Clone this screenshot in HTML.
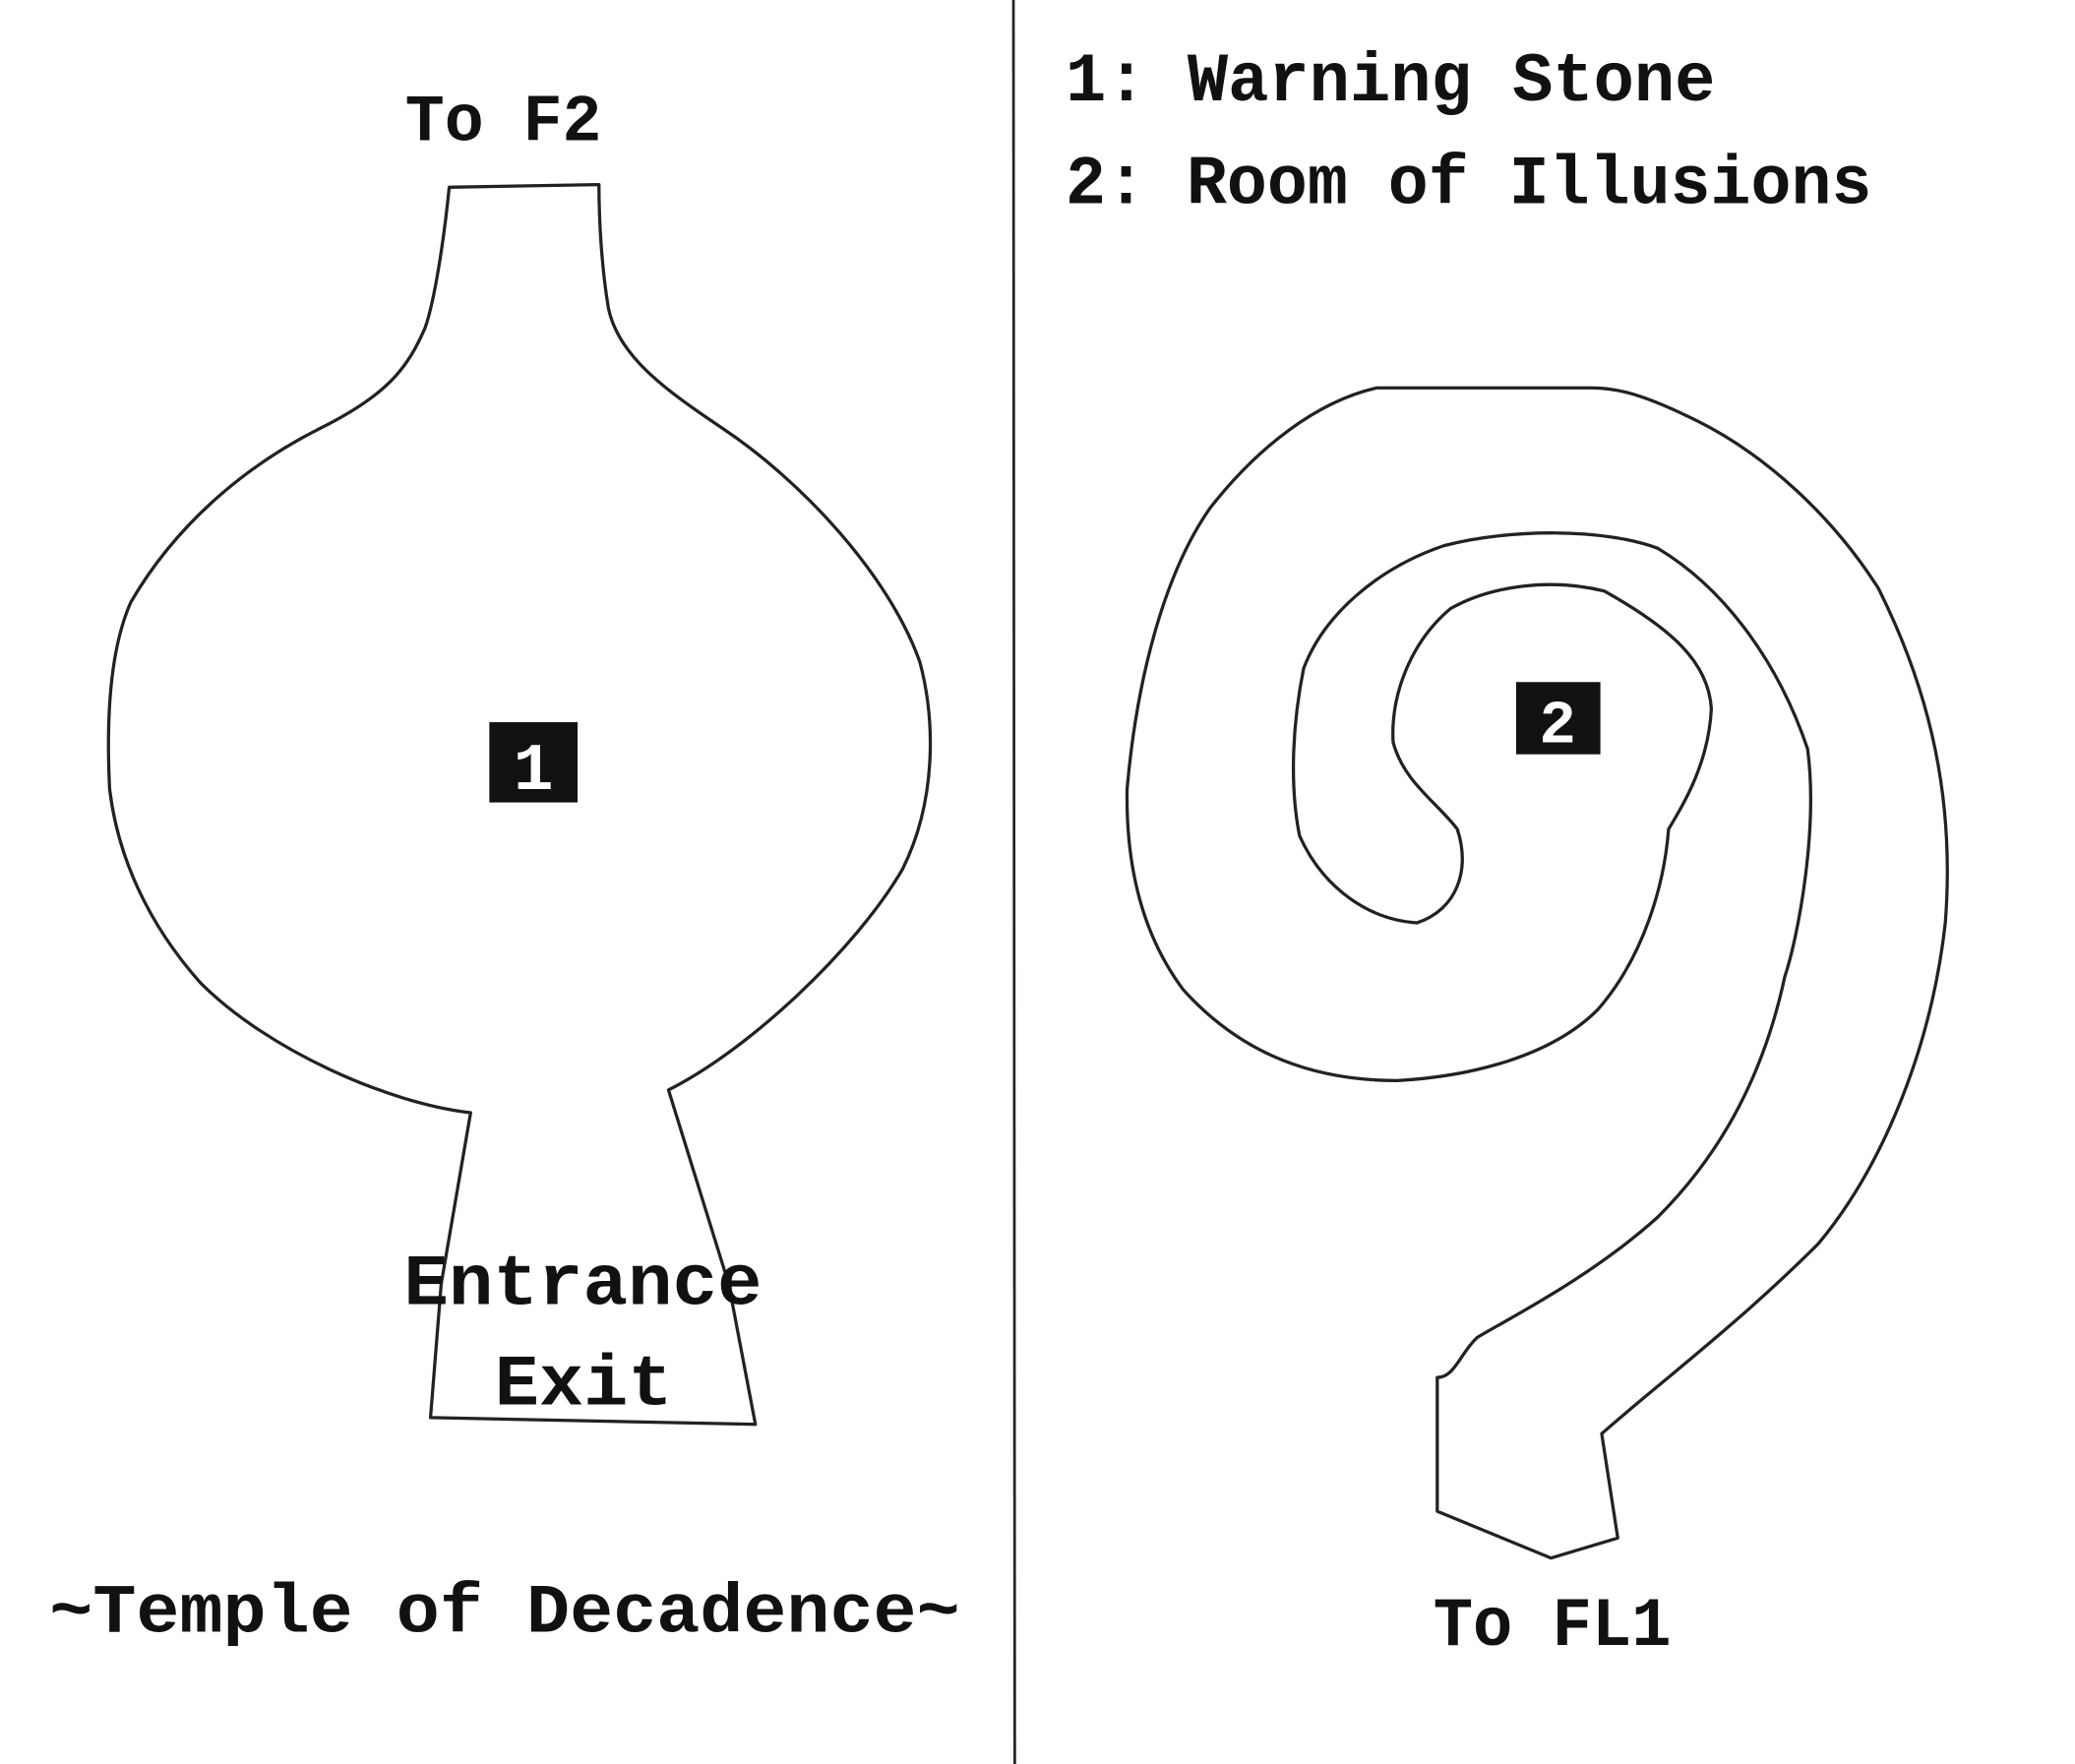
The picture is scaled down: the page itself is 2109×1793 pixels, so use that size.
<!DOCTYPE html>
<html><head><meta charset="utf-8"><style>
html,body{margin:0;padding:0;background:#fff;}
svg{display:block;}
text{font-family:"Liberation Mono",monospace;font-weight:bold;fill:#111;}
</style></head><body>
<svg width="2109" height="1793" viewBox="0 0 1552 1319" preserveAspectRatio="none" xmlns="http://www.w3.org/2000/svg">
<rect width="1552" height="1319" fill="#fff"/>
<line x1="758" y1="0" x2="759" y2="1319" stroke="#222" stroke-width="2"/>
<path d="M336,140 C332,180 325,225 318,245 C305,275 290,295 240,320 C180,350 130,395 98,450 C80,490 80,550 82,590 C88,640 110,690 150,735 C200,785 290,825 352,832 L330,960 L322,1060 L565,1065 L545,960 L500,815 C560,785 640,710 675,650 C700,600 700,540 688,495 C665,430 600,360 540,320 C495,290 462,265 455,230 C450,200 448,165 448,138 Z" fill="none" stroke="#222" stroke-width="2.4" stroke-linejoin="round"/>
<path d="M1075,1030 L1075,1130 L1160,1165 L1210,1150 L1198,1072 C1240,1035 1300,990 1360,930 C1410,870 1445,780 1455,690 C1462,600 1445,520 1405,440 C1370,385 1320,340 1270,315 C1230,295 1210,290 1190,290 L1030,290 C985,300 940,335 905,380 C870,430 850,510 843,590 C842,650 855,700 885,740 C930,790 985,808 1045,808 C1100,805 1160,790 1195,755 C1230,715 1245,660 1248,620 C1260,600 1278,570 1280,530 C1278,495 1250,470 1200,442 C1160,432 1115,438 1085,455 C1055,480 1040,520 1042,555 C1050,585 1075,600 1090,620 C1100,650 1090,680 1060,690 C1025,688 990,665 972,625 C965,590 966,545 975,500 C990,460 1030,425 1080,408 C1130,395 1200,395 1240,410 C1290,440 1330,495 1352,560 C1360,620 1345,700 1335,730 C1320,800 1290,860 1240,910 C1190,955 1130,985 1105,1000 C1092,1012 1088,1030 1075,1030 Z" fill="none" stroke="#222" stroke-width="2.4" stroke-linejoin="round"/>
<text x="303" y="105" font-size="50" textLength="147" lengthAdjust="spacingAndGlyphs">To F2</text>
<rect x="366" y="540" width="66" height="60" fill="#111"/>
<text x="399" y="590" font-size="50" text-anchor="middle" style="fill:#fff">1</text>
<text x="302" y="975" font-size="54" textLength="268" lengthAdjust="spacingAndGlyphs">Entrance</text>
<text x="370" y="1050" font-size="54" textLength="133" lengthAdjust="spacingAndGlyphs">Exit</text>
<text x="37" y="1220" font-size="52" textLength="681" lengthAdjust="spacingAndGlyphs">~Temple of Decadence~</text>
<text x="797" y="75" font-size="52" textLength="486" lengthAdjust="spacingAndGlyphs">1: Warning Stone</text>
<text x="797" y="152" font-size="52" textLength="603" lengthAdjust="spacingAndGlyphs">2: Room of Illusions</text>
<rect x="1134" y="510" width="63" height="54" fill="#111"/>
<text x="1165" y="555" font-size="46" text-anchor="middle" style="fill:#fff">2</text>
<text x="1072" y="1230" font-size="52" textLength="178" lengthAdjust="spacingAndGlyphs">To FL1</text>
</svg>
</body></html>
